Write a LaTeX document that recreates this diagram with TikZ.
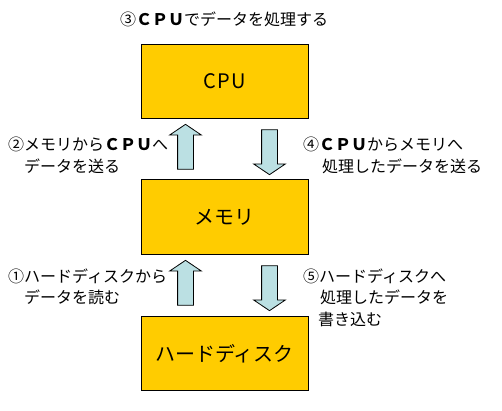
\documentclass[tikz,border=0pt]{standalone}
\usepackage{fontspec}
\setmainfont{Noto Sans CJK JP}
\usetikzlibrary{shapes.arrows}
\definecolor{boxyellow}{RGB}{255,204,0}
\definecolor{flowblue}{RGB}{187,224,227}

\begin{document}
\begin{tikzpicture}[x=1pt,y=-1pt]
        \tikzstyle{unit}=[rectangle,draw,line width=1pt,fill=boxyellow,minimum width=167pt,minimum height=74pt,font=\fontsize{20}{24}\selectfont]
        \tikzstyle{flow}=[single arrow,draw,line width=0.8pt,fill=flowblue,inner xsep=0pt,inner ysep=7.5pt,minimum height=45pt,single arrow head extend=8pt,single arrow tip angle=112]
        \tikzstyle{note}=[anchor=base west,align=left,inner sep=0pt,font=\fontsize{16}{21.5}\selectfont]
        \useasboundingbox (0,0) rectangle (502,411);
        \node[unit] (cpu) at (224.5,81.5) {C\kern1ptP\kern1ptU};
        \node[unit] (mem) at (224.5,217) {メモリ};
        \node[unit] (hdd) at (224.5,353.5) {ハードディスク};
        \node[flow,rotate=90] (up1) at (185.5,149.5) {};
        \node[flow,rotate=-90] (down1) at (269.5,149.5) {};
        \node[flow,rotate=90] (up2) at (185.5,285.5) {};
        \node[flow,rotate=-90] (down2) at (269.5,285.5) {};
        \node[note] (step3) at (120,26) {③\textbf{ＣＰＵ}でデータを処理する};
        \node[note] (step2) at (8,172.5) {②メモリから\textbf{ＣＰＵ}へ\\\hspace{16pt}データを送る};
        \node[note] (step4) at (303,172.5) {④\textbf{ＣＰＵ}からメモリへ\\\hspace{19pt}処理したデータを送る};
        \node[note] (step1) at (8,303.5) {①ハードディスクから\\\hspace{16pt}データを読む};
        \node[note] (step5) at (303,325) {⑤ハードディスクへ\\\hspace{17pt}処理したデータを\\\hspace{15pt}書き込む};
\end{tikzpicture}
\end{document}
